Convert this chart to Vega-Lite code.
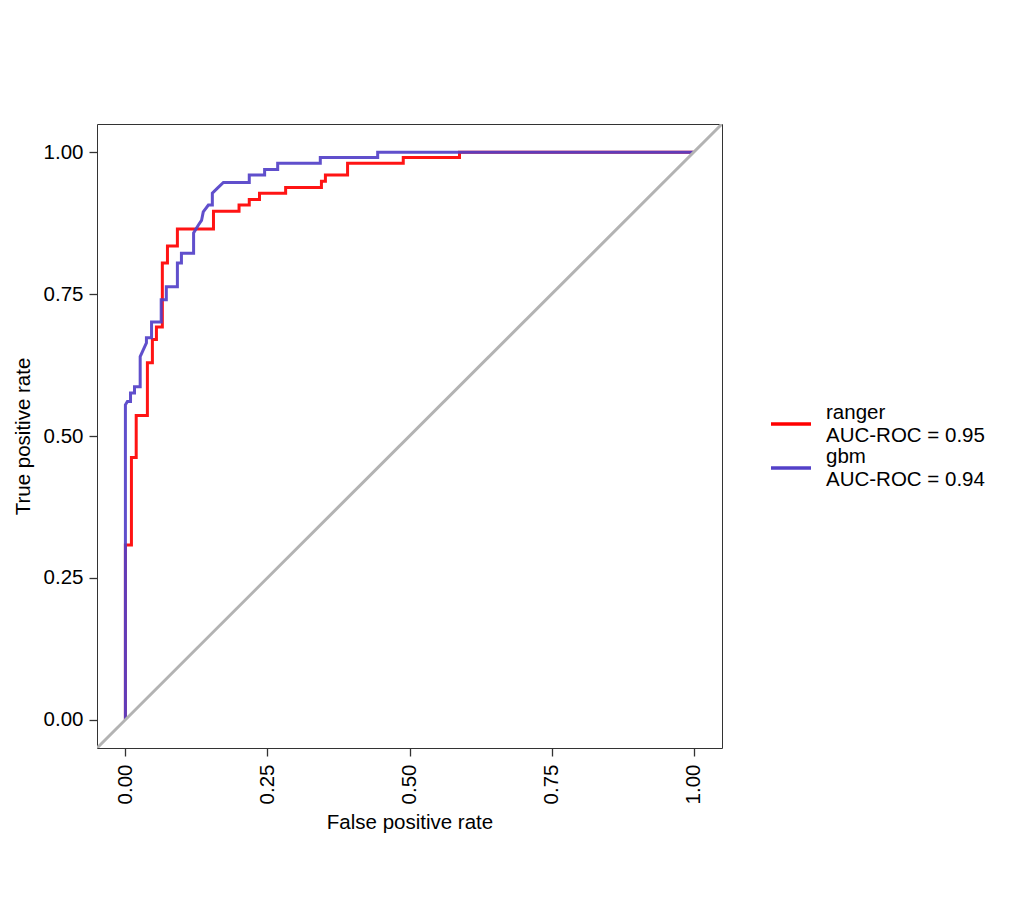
{
  "$schema": "https://vega.github.io/schema/vega-lite/v6.json",
  "autosize": {"type": "none"},
  "padding": {"left": 97, "top": 124, "right": 306, "bottom": 174},
  "width": 625,
  "height": 624,
  "background": "white",
  "config": {
    "font": "Liberation Sans",
    "view": {"stroke": "#333333", "strokeWidth": 1},
    "axis": {
      "domain": false,
      "grid": false,
      "tickColor": "#333333",
      "tickSize": 8,
      "tickWidth": 1.3,
      "labelColor": "#000000",
      "labelFontSize": 20.5,
      "titleColor": "#000000",
      "titleFontSize": 20.5,
      "titleFontWeight": "normal"
    },
    "legend": {
      "labelFontSize": 20.5,
      "labelColor": "#000000",
      "labelLimit": 0
    }
  },
  "layer": [
    {
      "data": {
        "values": [
          {"model": "ranger", "ord": 1, "fpr": 0.0, "tpr": 0.0},
          {"model": "ranger", "ord": 2, "fpr": 0.0, "tpr": 0.308},
          {"model": "ranger", "ord": 3, "fpr": 0.0106, "tpr": 0.308},
          {"model": "ranger", "ord": 4, "fpr": 0.0106, "tpr": 0.462},
          {"model": "ranger", "ord": 5, "fpr": 0.019, "tpr": 0.462},
          {"model": "ranger", "ord": 6, "fpr": 0.019, "tpr": 0.536},
          {"model": "ranger", "ord": 7, "fpr": 0.0387, "tpr": 0.536},
          {"model": "ranger", "ord": 8, "fpr": 0.0387, "tpr": 0.629},
          {"model": "ranger", "ord": 9, "fpr": 0.0475, "tpr": 0.629},
          {"model": "ranger", "ord": 10, "fpr": 0.0475, "tpr": 0.67},
          {"model": "ranger", "ord": 11, "fpr": 0.0546, "tpr": 0.67},
          {"model": "ranger", "ord": 12, "fpr": 0.0546, "tpr": 0.692},
          {"model": "ranger", "ord": 13, "fpr": 0.065, "tpr": 0.692},
          {"model": "ranger", "ord": 14, "fpr": 0.065, "tpr": 0.805},
          {"model": "ranger", "ord": 15, "fpr": 0.074, "tpr": 0.805},
          {"model": "ranger", "ord": 16, "fpr": 0.074, "tpr": 0.835},
          {"model": "ranger", "ord": 17, "fpr": 0.0915, "tpr": 0.835},
          {"model": "ranger", "ord": 18, "fpr": 0.0915, "tpr": 0.865},
          {"model": "ranger", "ord": 19, "fpr": 0.155, "tpr": 0.865},
          {"model": "ranger", "ord": 20, "fpr": 0.155, "tpr": 0.896},
          {"model": "ranger", "ord": 21, "fpr": 0.2, "tpr": 0.896},
          {"model": "ranger", "ord": 22, "fpr": 0.2, "tpr": 0.907},
          {"model": "ranger", "ord": 23, "fpr": 0.218, "tpr": 0.907},
          {"model": "ranger", "ord": 24, "fpr": 0.218, "tpr": 0.917},
          {"model": "ranger", "ord": 25, "fpr": 0.236, "tpr": 0.917},
          {"model": "ranger", "ord": 26, "fpr": 0.236, "tpr": 0.928},
          {"model": "ranger", "ord": 27, "fpr": 0.282, "tpr": 0.928},
          {"model": "ranger", "ord": 28, "fpr": 0.282, "tpr": 0.938},
          {"model": "ranger", "ord": 29, "fpr": 0.345, "tpr": 0.938},
          {"model": "ranger", "ord": 30, "fpr": 0.345, "tpr": 0.949},
          {"model": "ranger", "ord": 31, "fpr": 0.352, "tpr": 0.949},
          {"model": "ranger", "ord": 32, "fpr": 0.352, "tpr": 0.96},
          {"model": "ranger", "ord": 33, "fpr": 0.391, "tpr": 0.96},
          {"model": "ranger", "ord": 34, "fpr": 0.391, "tpr": 0.981},
          {"model": "ranger", "ord": 35, "fpr": 0.489, "tpr": 0.981},
          {"model": "ranger", "ord": 36, "fpr": 0.489, "tpr": 0.991},
          {"model": "ranger", "ord": 37, "fpr": 0.588, "tpr": 0.991},
          {"model": "ranger", "ord": 38, "fpr": 0.588, "tpr": 1.0},
          {"model": "ranger", "ord": 39, "fpr": 1.0, "tpr": 1.0},
          {"model": "gbm", "ord": 1, "fpr": 0.0, "tpr": 0.0},
          {"model": "gbm", "ord": 2, "fpr": 0.0, "tpr": 0.555},
          {"model": "gbm", "ord": 3, "fpr": 0.0035, "tpr": 0.561},
          {"model": "gbm", "ord": 4, "fpr": 0.009, "tpr": 0.561},
          {"model": "gbm", "ord": 5, "fpr": 0.009, "tpr": 0.576},
          {"model": "gbm", "ord": 6, "fpr": 0.016, "tpr": 0.576},
          {"model": "gbm", "ord": 7, "fpr": 0.016, "tpr": 0.587},
          {"model": "gbm", "ord": 8, "fpr": 0.026, "tpr": 0.587},
          {"model": "gbm", "ord": 9, "fpr": 0.026, "tpr": 0.64},
          {"model": "gbm", "ord": 10, "fpr": 0.037, "tpr": 0.664},
          {"model": "gbm", "ord": 11, "fpr": 0.037, "tpr": 0.673},
          {"model": "gbm", "ord": 12, "fpr": 0.046, "tpr": 0.673},
          {"model": "gbm", "ord": 13, "fpr": 0.046, "tpr": 0.701},
          {"model": "gbm", "ord": 14, "fpr": 0.063, "tpr": 0.701},
          {"model": "gbm", "ord": 15, "fpr": 0.063, "tpr": 0.74},
          {"model": "gbm", "ord": 16, "fpr": 0.072, "tpr": 0.74},
          {"model": "gbm", "ord": 17, "fpr": 0.072, "tpr": 0.763},
          {"model": "gbm", "ord": 18, "fpr": 0.0915, "tpr": 0.763},
          {"model": "gbm", "ord": 19, "fpr": 0.0915, "tpr": 0.805},
          {"model": "gbm", "ord": 20, "fpr": 0.0986, "tpr": 0.805},
          {"model": "gbm", "ord": 21, "fpr": 0.0986, "tpr": 0.822},
          {"model": "gbm", "ord": 22, "fpr": 0.12, "tpr": 0.822},
          {"model": "gbm", "ord": 23, "fpr": 0.12, "tpr": 0.858},
          {"model": "gbm", "ord": 24, "fpr": 0.1285, "tpr": 0.872},
          {"model": "gbm", "ord": 25, "fpr": 0.134, "tpr": 0.88},
          {"model": "gbm", "ord": 26, "fpr": 0.137, "tpr": 0.895},
          {"model": "gbm", "ord": 27, "fpr": 0.146, "tpr": 0.907},
          {"model": "gbm", "ord": 28, "fpr": 0.153, "tpr": 0.907},
          {"model": "gbm", "ord": 29, "fpr": 0.153, "tpr": 0.928},
          {"model": "gbm", "ord": 30, "fpr": 0.162, "tpr": 0.937},
          {"model": "gbm", "ord": 31, "fpr": 0.1725, "tpr": 0.947},
          {"model": "gbm", "ord": 32, "fpr": 0.218, "tpr": 0.947},
          {"model": "gbm", "ord": 33, "fpr": 0.218, "tpr": 0.96},
          {"model": "gbm", "ord": 34, "fpr": 0.245, "tpr": 0.96},
          {"model": "gbm", "ord": 35, "fpr": 0.245, "tpr": 0.97},
          {"model": "gbm", "ord": 36, "fpr": 0.268, "tpr": 0.97},
          {"model": "gbm", "ord": 37, "fpr": 0.268, "tpr": 0.981},
          {"model": "gbm", "ord": 38, "fpr": 0.343, "tpr": 0.981},
          {"model": "gbm", "ord": 39, "fpr": 0.343, "tpr": 0.991},
          {"model": "gbm", "ord": 40, "fpr": 0.444, "tpr": 0.991},
          {"model": "gbm", "ord": 41, "fpr": 0.444, "tpr": 1.0},
          {"model": "gbm", "ord": 42, "fpr": 1.0, "tpr": 1.0}
        ]
      },
      "mark": {"type": "line", "strokeWidth": 3, "clip": true, "strokeOpacity": 0.92},
      "encoding": {
        "x": {
          "field": "fpr", "type": "quantitative",
          "scale": {"domain": [-0.05, 1.05], "nice": false, "zero": false},
          "axis": {"values": [0, 0.25, 0.5, 0.75, 1], "format": ".2f", "labelAngle": -90, "labelAlign": "right", "labelBaseline": "middle", "labelPadding": 8, "title": "False positive rate", "titlePadding": 9}
        },
        "y": {
          "field": "tpr", "type": "quantitative",
          "scale": {"domain": [-0.05, 1.05], "nice": false, "zero": false},
          "axis": {"values": [0, 0.25, 0.5, 0.75, 1], "format": ".2f", "labelPadding": 6, "title": "True positive rate", "titlePadding": 10}
        },
        "color": {
          "field": "model", "type": "nominal",
          "scale": {"domain": ["ranger", "gbm"], "range": ["#FF0000", "#5340C8"]},
          "legend": {
            "title": null,
            "orient": "none",
            "legendX": 672,
            "legendY": 278,
            "symbolType": "stroke",
            "symbolSize": 1600,
            "symbolStrokeWidth": 3.5,
            "labelOffset": 13,
            "rowPadding": 0,
            "labelLimit": 0,
            "labelBaseline": "line-bottom",
            "labelExpr": "datum.label == 'ranger' ? ['ranger', '\u2004AUC-ROC = 0.95'] : ['gbm', '\u2004AUC-ROC = 0.94']"
          }
        },
        "order": {"field": "ord", "type": "quantitative"}
      }
    },
    {
      "data": {
        "values": [
          {"fpr": -0.05, "tpr": -0.05},
          {"fpr": 1.05, "tpr": 1.05}
        ]
      },
      "mark": {"type": "line", "color": "#B3B3B3", "strokeWidth": 3, "clip": true},
      "encoding": {
        "x": {"field": "fpr", "type": "quantitative"},
        "y": {"field": "tpr", "type": "quantitative"}
      }
    }
  ]
}
